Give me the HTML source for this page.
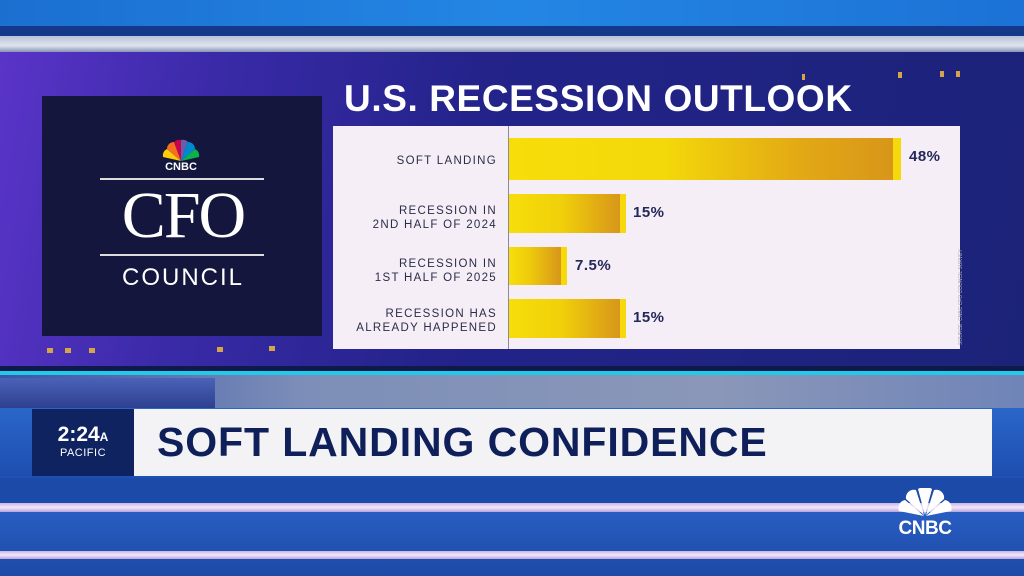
<!DOCTYPE html>
<html><head><meta charset="utf-8"><style>
*{margin:0;padding:0;box-sizing:border-box}
body{width:1024px;height:576px;overflow:hidden;position:relative;font-family:"Liberation Sans",sans-serif;background:#1f4fb0}
.a{position:absolute}
.lbl{position:absolute;right:11px;width:175px;text-align:right;font-size:11.5px;letter-spacing:1.3px;color:#2a2d4a;line-height:14px}
.bar{position:absolute;left:0}
.pct{position:absolute;font-size:15px;font-weight:bold;color:#23285a;letter-spacing:.5px}
</style></head><body>
<div class="a" style="left:0;top:0;width:1024px;height:26px;background:linear-gradient(90deg,#1b6fd0,#2486e4 50%,#1c72d6)"></div>
<div class="a" style="left:0;top:26px;width:1024px;height:14px;background:#16388a"></div>
<div class="a" style="left:0;top:36px;width:1024px;height:16px;background:linear-gradient(#b7c2d8,#dfe4ee 60%,#8894b6)"></div>
<div class="a" style="left:0;top:52px;width:1024px;height:320px;background:linear-gradient(100deg,#5a34c8 0%,#3a2aa8 20%,#23238a 45%,#1b2378 100%)"></div>
<div class="a" style="left:42px;top:96px;width:280px;height:240px;background:#14163d"></div>
<svg class="a" style="left:160px;top:139px" width="42" height="24" viewBox="0 0 42 24">
<g transform="translate(21,22)"><path d="M0,0 L-18,-4 A7 7 0 0 1 -14,-12Z" fill="#fccb0a"/><path d="M0,0 L-14,-12 A7 7 0 0 1 -7,-19Z" fill="#f37021"/><path d="M0,0 L-7,-19 A7 7 0 0 1 0,-21Z" fill="#cc004c"/><path d="M0,0 L0,-21 A7 7 0 0 1 7,-19Z" fill="#6460aa"/><path d="M0,0 L7,-19 A7 7 0 0 1 14,-12Z" fill="#0089d0"/><path d="M0,0 L14,-12 A7 7 0 0 1 18,-4Z" fill="#0db14b"/></g></svg>
<div class="a" style="left:150px;top:161px;width:62px;text-align:center;color:#fff;font-weight:bold;font-size:11px">CNBC</div>
<div class="a" style="left:100px;top:178px;width:164px;height:2px;background:#ddd"></div>
<div class="a" style="left:98px;top:178px;width:170px;text-align:center;color:#fff;font-family:'Liberation Serif',serif;font-size:66px;line-height:76px;letter-spacing:-2px">CFO</div>
<div class="a" style="left:100px;top:254px;width:164px;height:2px;background:#ddd"></div>
<div class="a" style="left:98px;top:264px;width:170px;text-align:center;color:#fff;font-size:24px;letter-spacing:2px;line-height:28px">COUNCIL</div>
<div class="a" style="left:47px;top:348px;width:6px;height:5px;background:#d6a54a"></div>
<div class="a" style="left:65px;top:348px;width:6px;height:5px;background:#d6a54a"></div>
<div class="a" style="left:89px;top:348px;width:6px;height:5px;background:#d6a54a"></div>
<div class="a" style="left:217px;top:347px;width:6px;height:5px;background:#d6a54a"></div>
<div class="a" style="left:269px;top:346px;width:6px;height:5px;background:#d6a54a"></div>
<div class="a" style="left:802px;top:74px;width:3px;height:6px;background:#d6a54a"></div>
<div class="a" style="left:898px;top:72px;width:4px;height:6px;background:#d6a54a"></div>
<div class="a" style="left:940px;top:71px;width:4px;height:6px;background:#d6a54a"></div>
<div class="a" style="left:956px;top:71px;width:4px;height:6px;background:#d6a54a"></div>
<div class="a" style="left:344px;top:78px;color:#fff;font-weight:bold;font-size:37px;letter-spacing:0.6px">U.S. RECESSION OUTLOOK</div>
<div class="a" style="left:333px;top:126px;width:627px;height:223px;background:#f6eef6"></div>
<div class="a" style="left:508px;top:126px;width:1px;height:223px;background:#8a8a9a"></div>
<div class="a" style="left:333px;top:0;width:175px;height:576px">
<div class="lbl" style="top:154px">SOFT LANDING</div>
<div class="lbl" style="top:204px">RECESSION IN<br>2ND HALF OF 2024</div>
<div class="lbl" style="top:257px">RECESSION IN<br>1ST HALF OF 2025</div>
<div class="lbl" style="top:307px">RECESSION HAS<br>ALREADY HAPPENED</div>
</div>
<div class="a" style="left:509px;top:0">
<div class="bar" style="top:138px;width:392px;height:42px;background:linear-gradient(90deg,#f7de0a 0%,#f3d80a 40%,#e2a815 75%,#d8961a 98%,#f5d90a 98%)"></div>
<div class="bar" style="top:194px;width:117px;height:39px;background:linear-gradient(90deg,#f7de0a 0%,#f0d00a 45%,#d8961a 95%,#f5d90a 95%)"></div>
<div class="bar" style="top:247px;width:58px;height:38px;background:linear-gradient(90deg,#f7de0a 0%,#eecb0b 35%,#d8961a 90%,#f5d90a 90%)"></div>
<div class="bar" style="top:299px;width:117px;height:39px;background:linear-gradient(90deg,#f7de0a 0%,#f0d00a 45%,#d8961a 95%,#f5d90a 95%)"></div>
</div>
<div class="pct" style="left:909px;top:148px">48%</div>
<div class="pct" style="left:633px;top:204px">15%</div>
<div class="pct" style="left:575px;top:257px">7.5%</div>
<div class="pct" style="left:633px;top:309px">15%</div>
<div class="a" style="left:958px;font-size:5px;color:#aab;transform:rotate(-90deg);transform-origin:0 0;white-space:nowrap;top:345px">SOURCE: CNBC CFO COUNCIL SURVEY</div>
<div class="a" style="left:0;top:366px;width:1024px;height:6px;background:#0d1a4a"></div>
<div class="a" style="left:0;top:371px;width:1024px;height:4px;background:#24c8e8"></div>
<div class="a" style="left:0;top:375px;width:1024px;height:35px;background:linear-gradient(90deg,#3a55a8,#7d8fb8 30%,#8a97b8 70%,#6f84b8)"></div>
<div class="a" style="left:0;top:378px;width:215px;height:30px;background:linear-gradient(#4a63b8,#2e3f8f)"></div>
<div class="a" style="left:0;top:408px;width:1024px;height:168px;background:linear-gradient(#2a66c8,#1e4fb0 40%,#2a5ec4 60%,#1c4aa6)"></div>
<div class="a" style="left:0;top:503px;width:1024px;height:9px;background:linear-gradient(#c9b3ea,#f2e8f8,#b8a3de)"></div>
<div class="a" style="left:0;top:551px;width:1024px;height:8px;background:linear-gradient(#c9b3ea,#f2e8f8,#b8a3de)"></div>
<div class="a" style="left:0;top:478px;width:1024px;height:25px;background:#1c4aa8"></div>
<div class="a" style="left:32px;top:409px;width:102px;height:67px;background:#0e2360"></div>
<div class="a" style="left:32px;top:424px;width:102px;text-align:center;color:#fff;font-weight:bold;font-size:21px;line-height:22px">2:24<span style="font-size:12px">A</span></div>
<div class="a" style="left:32px;top:447px;width:102px;text-align:center;color:#fff;font-size:11px;letter-spacing:.5px">PACIFIC</div>
<div class="a" style="left:134px;top:409px;width:858px;height:67px;background:#f3f3f5"></div>
<div class="a" style="left:157px;top:418px;color:#0e1f5a;font-weight:bold;font-size:41px;line-height:48px;letter-spacing:0.9px">SOFT LANDING CONFIDENCE</div>
<svg class="a" style="left:897px;top:488px" width="56" height="30" viewBox="0 0 56 30"><g fill="#fff" transform="translate(28,28)"><path d="M-1,0 L-26,-5 A8 8 0 0 1 -20,-16Z"/><path d="M-1,-1 L-19,-17 A8 8 0 0 1 -9,-26Z"/><path d="M0,-1 L-7,-27 A8 8 0 0 1 0,-28 A8 8 0 0 1 7,-27Z"/><path d="M1,-1 L9,-26 A8 8 0 0 1 19,-17Z"/><path d="M1,0 L20,-16 A8 8 0 0 1 26,-5Z"/></g></svg>
<div class="a" style="left:890px;top:518px;width:70px;text-align:center;color:#fff;font-weight:bold;font-size:19px;letter-spacing:-.5px">CNBC</div>
</body></html>
